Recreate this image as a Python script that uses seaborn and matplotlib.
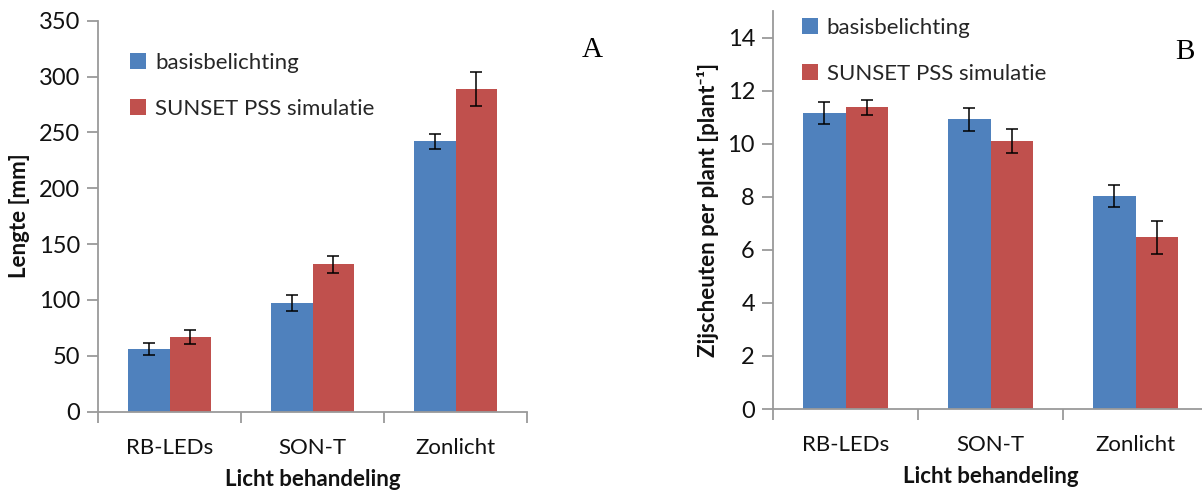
import matplotlib
matplotlib.use("Agg")
import matplotlib.pyplot as plt
import seaborn as sns
import pandas as pd
from matplotlib.patches import Patch

categories = ["RB-LEDs", "SON-T", "Zonlicht"]
series_names = ["basisbelichting", "SUNSET PSS simulatie"]

lengte_basis = [56, 97, 242]
lengte_sunset = [67, 132, 289]
lengte_basis_err = [5.4, 7.3, 6.9]
lengte_sunset_err = [6.4, 7.6, 15.4]

zijsch_basis = [11.15, 10.92, 8.03]
zijsch_sunset = [11.37, 10.12, 6.48]
zijsch_basis_err = [0.42, 0.43, 0.43]
zijsch_sunset_err = [0.27, 0.45, 0.62]

colors = ["#4F81BD", "#C0504D"]

sns.set_theme(style="white")
plt.rcParams["font.family"] = ["Lato", "DejaVu Sans"]

fig = plt.figure(figsize=(12.02, 4.93), dpi=100)
axA = fig.add_axes([98/1202, 1 - 411.5/493, (527-98)/1202, (411.5-20.7)/493])
axB = fig.add_axes([773/1202, 1 - 409/493, (1208-773)/1202, (409-11.2)/493])

AXC = "#9a9a9a"
TXT = "#111111"


def panel(ax, basis, sunset, berr, serr, ylim, yticks, ylabel):
    df = pd.DataFrame({
        "cat": categories * 2,
        "val": list(basis) + list(sunset),
        "serie": [series_names[0]] * 3 + [series_names[1]] * 3,
    })
    sns.barplot(data=df, x="cat", y="val", hue="serie", palette=colors,
                width=0.58, errorbar=None, ax=ax, saturation=1, legend=False,
                linewidth=0)
    for cont, err in zip(ax.containers, [berr, serr]):
        xs = [b.get_x() + b.get_width() / 2 for b in cont]
        ys = [b.get_height() for b in cont]
        ax.errorbar(xs, ys, yerr=err, fmt="none", ecolor="black",
                    elinewidth=1.1, capsize=4.5, capthick=1.1)
    ax.set_xlim(-0.5, 2.5)
    ax.set_ylim(*ylim)
    ax.set_yticks(yticks)
    ax.set_xticks([0, 1, 2])
    ax.set_xticklabels(categories)
    for s in ["top", "right"]:
        ax.spines[s].set_visible(False)
    for s in ["left", "bottom"]:
        ax.spines[s].set_color(AXC)
        ax.spines[s].set_linewidth(1.3)
    ax.tick_params(axis="y", which="major", left=True, length=8, width=1.3,
                   color=AXC, labelsize=17, labelcolor=TXT, pad=5)
    ax.tick_params(axis="x", which="major", bottom=False, labelsize=16,
                   labelcolor=TXT, pad=13)
    ax.set_xticks([-0.5, 0.5, 1.5, 2.5], minor=True)
    ax.tick_params(axis="x", which="minor", bottom=True, length=8, width=1.3,
                   color=AXC)
    ax.set_xlabel("Licht behandeling", fontsize=16, fontweight="bold",
                  color=TXT, labelpad=8)
    ax.set_ylabel(ylabel, fontsize=16, fontweight="bold", color=TXT,
                  labelpad=6)
    handles = [Patch(facecolor=c, edgecolor="none") for c in colors]
    return handles


hA = panel(axA, lengte_basis, lengte_sunset, lengte_basis_err, lengte_sunset_err,
           (0, 350), range(0, 351, 50), "Lengte [mm]")
axA.legend(hA, series_names, loc="upper left", bbox_to_anchor=(0.055, 0.94),
           frameon=False, fontsize=16, handlelength=0.7, handleheight=0.75,
           handletextpad=0.4, labelspacing=1.15, borderaxespad=0)

hB = panel(axB, zijsch_basis, zijsch_sunset, zijsch_basis_err, zijsch_sunset_err,
           (0, 15), range(0, 15, 2), "Zijscheuten per plant [plant⁻¹]")
axB.legend(hB, series_names, loc="upper left", bbox_to_anchor=(0.047, 1.005),
           frameon=False, fontsize=16, handlelength=0.7, handleheight=0.75,
           handletextpad=0.4, labelspacing=1.15, borderaxespad=0)

fig.text(592/1202, 1 - 50/493, "A", fontsize=21, family="Liberation Serif",
         ha="center", va="center", color="black")
fig.text(1185/1202, 1 - 52/493, "B", fontsize=21, family="Liberation Serif",
         ha="center", va="center", color="black")

fig.savefig("out.png", dpi=100, facecolor="white")
